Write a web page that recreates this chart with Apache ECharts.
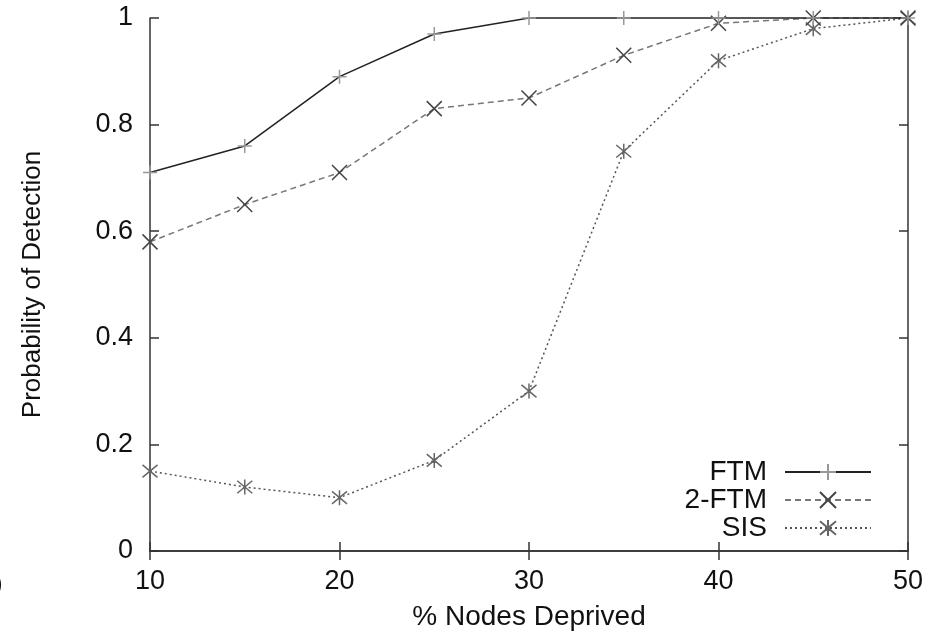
<!DOCTYPE html>
<html>
<head>
<meta charset="utf-8">
<script src="https://cdn.jsdelivr.net/npm/echarts@6/dist/echarts.min.js"></script>
<style>
html,body{margin:0;padding:0;background:#fff;}
#chart{width:943px;height:641px;}
</style>
</head>
<body>
<div id="chart"></div>
<script>
var xValues = [10, 15, 20, 25, 30, 35, 40, 45, 50];
var ftm    = [0.71, 0.76, 0.89, 0.97, 1.00, 1.00, 1.00, 1.00, 1.00];
var ftm2   = [0.58, 0.65, 0.71, 0.83, 0.85, 0.93, 0.99, 1.00, 1.00];
var sis    = [0.15, 0.12, 0.10, 0.17, 0.30, 0.75, 0.92, 0.98, 1.00];
var seriesNames = ['FTM', '2-FTM', 'SIS'];
var xTitle = '% Nodes Deprived';
var yTitle = 'Probability of Detection';

function pairs(ys){ return xValues.map(function(x,i){ return [x, ys[i]]; }); }

var FONT = 'Liberation Sans, Arial, Helvetica, sans-serif';
var plusPath = 'path://M0,-1L0,1M-1,0L1,0';
var crossPath = 'path://M-1,-1L1,1M-1,1L1,-1';
var starPath = 'path://M-1,-1L1,1M-1,1L1,-1M0,-1.2L0,1.2M-0.12,-0.12L0.12,-0.12L0.12,0.12L-0.12,0.12Z';

var axisLine = {show:true, lineStyle:{color:'#333', width:1.5}};
var tick = {show:true, inside:true, length:9, lineStyle:{color:'#333', width:1.5}};

var chart = echarts.init(document.getElementById('chart'), null, {renderer:'canvas'});
function legendFor(name, top){
  return {
    data:[name], right:71, top:top, orient:'vertical', align:'right',
    padding:0, itemWidth:86, itemHeight:20, itemGap:0,
    textStyle:{fontFamily:FONT, fontSize:28, color:'#111', lineHeight:28, padding:[0,13,0,0]}
  };
}
chart.setOption({
  animation:false,
  backgroundColor:'#fff',
  grid:{left:150, right:35, top:18, bottom:90, containLabel:false},
  legend:[legendFor('FTM',458), legendFor('2-FTM',486), legendFor('SIS',514)],
  xAxis:[{
    type:'value', min:10, max:50, interval:10,
    name:xTitle, nameLocation:'middle', nameGap:52,
    nameTextStyle:{fontFamily:FONT, fontSize:28, color:'#111'},
    axisLine:axisLine, axisTick:tick, splitLine:{show:false},
    axisLabel:{fontFamily:FONT, fontSize:27, color:'#111', margin:17}
  },{
    type:'value', min:10, max:50, interval:10, position:'top',
    axisLine:axisLine, axisTick:tick, splitLine:{show:false}, axisLabel:{show:false}
  }],
  yAxis:[{
    type:'value', min:0, max:1, interval:0.2,
    name:yTitle, nameLocation:'middle', nameGap:104,
    nameTextStyle:{fontFamily:FONT, fontSize:26, color:'#111'},
    axisLine:axisLine, axisTick:tick, splitLine:{show:false},
    axisLabel:{fontFamily:FONT, fontSize:27, color:'#111', margin:17,
      formatter:function(v){ return String(Math.round(v*10)/10); }}
  },{
    type:'value', min:0, max:1, interval:0.2, position:'right',
    axisLine:axisLine, axisTick:tick, splitLine:{show:false}, axisLabel:{show:false}
  }],
  graphic:[{type:'text', x:-6, y:572, style:{text:')', font:'26px Liberation Sans', fill:'#111'}}],
  series:[
    {name:seriesNames[0], type:'line', data:pairs(ftm), clip:false,
     symbol:plusPath, symbolSize:14,
     lineStyle:{color:'#222', width:1.5, type:'solid'},
     itemStyle:{color:'#999', borderColor:'#999', borderWidth:1.5}, z:3},
    {name:seriesNames[1], type:'line', data:pairs(ftm2), clip:false,
     symbol:crossPath, symbolSize:15,
     lineStyle:{color:'#777', width:1.5, type:[6,4]},
     itemStyle:{color:'#444', borderColor:'#444', borderWidth:1.5}, z:2},
    {name:seriesNames[2], type:'line', data:pairs(sis), clip:false,
     symbol:starPath, symbolSize:15,
     lineStyle:{color:'#555', width:1.5, type:[2,3]},
     itemStyle:{color:'#000', borderColor:'#666', borderWidth:1.5}, z:1}
  ]
});
</script>
</body>
</html>
